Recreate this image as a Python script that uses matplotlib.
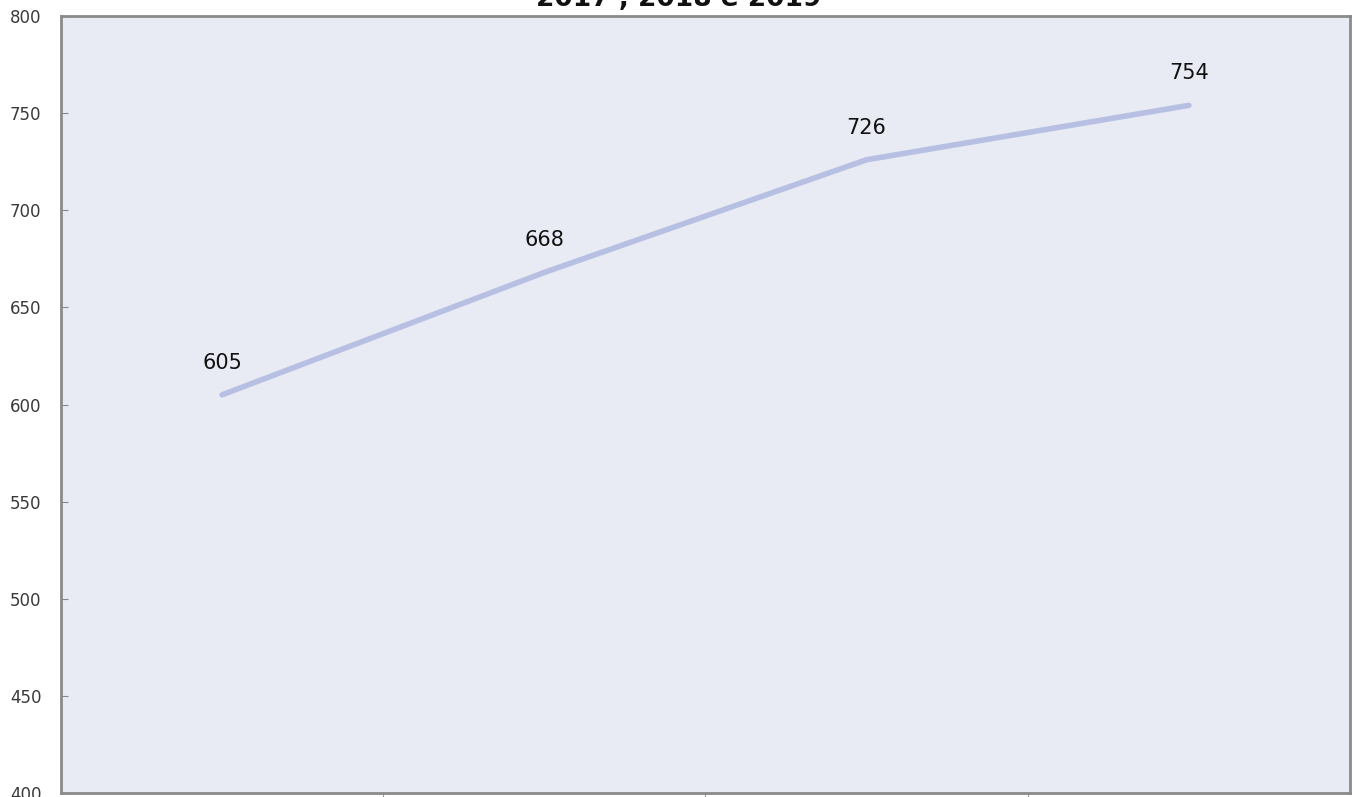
import matplotlib
matplotlib.use("Agg")
import matplotlib.pyplot as plt

# data
years = ["2016", "2017", "2018", "2019"]
values = [605, 668, 726, 754]
title = "2017 , 2018 e 2019"

W, H, DPI = 1358, 797, 100
fig = plt.figure(figsize=(W / DPI, H / DPI), dpi=DPI)
ax = fig.add_axes([61 / W, (H - 793) / H, (1350 - 61) / W, (793 - 16) / H])
ax.set_facecolor("#e8eaf4")

x = list(range(len(values)))
ax.plot(x, values, color="#b7c0e2", linewidth=4, solid_capstyle="round")
for xi, v in zip(x, values):
    ax.annotate(str(v), (xi, v), xytext=(0, 22), textcoords="offset pixels",
                ha="center", va="bottom", fontsize=15, color="#111111")

ax.set_xlim(-0.5, len(values) - 0.5)
ax.set_ylim(400, 800)
ax.set_yticks(range(400, 801, 50))
ax.set_xticks([i + 0.5 for i in range(len(values) - 1)])
ax.set_xticklabels([])
ax.tick_params(axis="y", direction="in", length=5, color="#888888",
               labelsize=12, labelcolor="#3a3a3a", pad=14)
ax.tick_params(axis="x", direction="out", length=6, color="#999999")
for s in ax.spines.values():
    s.set_color("#8a8a8a")
    s.set_linewidth(2)

fig.text(0.5, 1 - 6 / H, title, ha="center", va="baseline",
         fontsize=19, fontweight="bold", color="#111111")

fig.savefig("out.png", dpi=DPI)
